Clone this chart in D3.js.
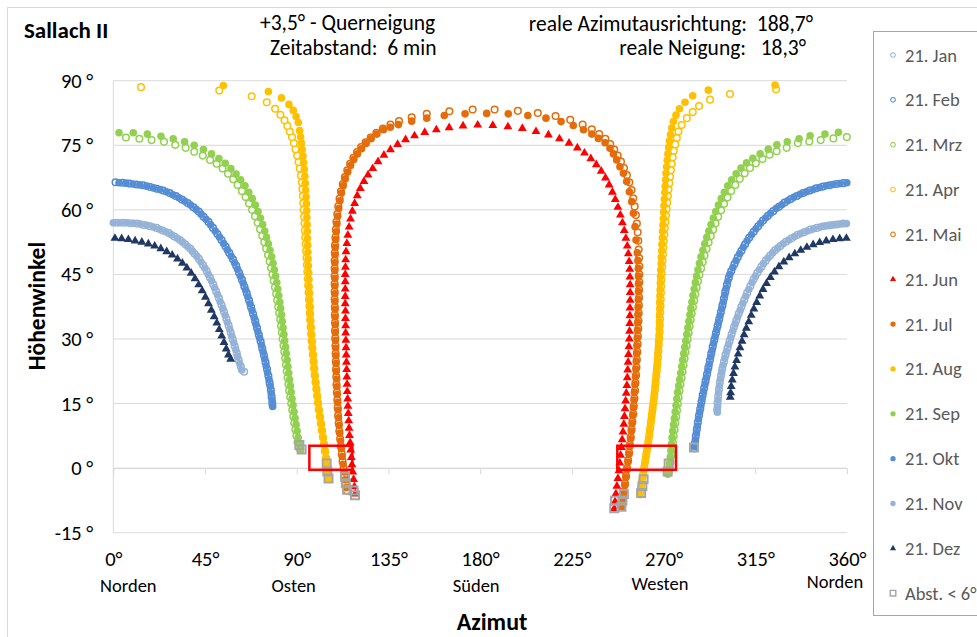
<!DOCTYPE html>
<html>
<head>
<meta charset="utf-8">
<script src="https://cdn.jsdelivr.net/npm/d3@7"></script>
<style>
body { margin: 0; background: #fff; }
svg text { font-family: Calibri, Carlito, Lato, "Liberation Sans", sans-serif; }
</style>
</head>
<body>
<svg id="chart" width="977" height="637"></svg>
<script>
// axis ticks
var altTicks = [-15, 0, 15, 30, 45, 60, 75, 90];
var azTicks = [0, 45, 90, 135, 180, 225, 270, 315, 360];
var compass = [[0, "Norden"], [90, "Osten"], [180, "Süden"], [270, "Westen"], [360, "Norden"]];

// [azimut, hoehenwinkel], 6 min steps
var jan = [[1.7,57],[5,57],[8.3,56.9],[11.6,56.8],[14.8,56.5],[18,56.2],[21.2,55.8],[24.2,55.2],[27.2,54.6],[30,53.8],[32.7,53],[35.3,52],[37.7,51],[39.9,49.8],[42,48.6],[44,47.2],[45.8,45.8],[47.4,44.3],[49,42.7],[50.4,41.1],[51.8,39.5],[53.1,37.9],[54.3,36.3],[55.5,34.7],[56.6,33.1],[57.6,31.5],[58.6,29.9],[59.6,28.3],[60.6,26.7],[61.5,25.1],[62.6,23.6],[64.2,22.4],
  [358.1,56.8],[354.9,56.6],[351.6,56.4],[348.4,56.2],[345.2,55.8],[342,55.4],[338.9,54.8],[335.8,54.2],[332.8,53.4],[330,52.6],[327.3,51.6],[324.7,50.6],[322.3,49.4],[320.1,48.2],[318,46.8],[316,45.4],[314.2,43.9],[312.6,42.3],[311,40.7],[309.6,39.1],[308.2,37.5],[306.9,35.9],[305.7,34.3],[304.5,32.7],[303.4,31.1],[302.4,29.5],[301.4,27.9],[300.4,26.3],[299.6,24.7],[298.8,23.1],[298.2,21.5],[297.6,19.9],[297.2,18.3],[296.8,16.7],[296.5,15.1],[296.3,13.6]];
var feb = [[1.1,66.4],[4.5,66.3],[7.9,66.1],[11.3,65.9],[14.7,65.7],[18.1,65.3],[21.3,64.9],[24.5,64.5],[27.7,63.9],[30.7,63.2],[33.7,62.4],[36.5,61.6],[39.3,60.6],[41.9,59.6],[44.3,58.4],[46.7,57.2],[48.9,55.8],[51.1,54.4],[53.1,53],[55.1,51.5],[56.9,50],[58.7,48.5],[60.3,47],[61.7,45.4],[63.1,43.8],[64.3,42.2],[65.5,40.6],[66.6,39],[67.6,37.4],[68.6,35.8],[69.6,34.2],[70.5,32.6],[71.4,31],[72.3,29.4],[73.1,27.8],[73.9,26.2],[74.7,24.6],[75.4,23],[76.1,21.4],[76.7,19.8],[77.3,18.2],[77.7,16.6],[78,15],
  [358.2,66.2],[354.8,66],[351.5,65.7],[348.2,65.4],[344.9,65],[341.7,64.5],[338.5,63.9],[335.4,63.2],[332.4,62.5],[329.4,61.7],[326.6,60.7],[323.8,59.7],[321.2,58.6],[318.8,57.5],[316.4,56.2],[314.2,54.9],[312,53.5],[310,52],[308.2,50.5],[306.4,49],[304.8,47.4],[303.2,45.8],[302,44.2],[301.1,42.6],[300.3,41],[299.6,39.4],[298.9,37.8],[298.1,36.2],[297.3,34.6],[296.5,33],[295.7,31.4],[294.9,29.8],[294.1,28.2],[293.4,26.6],[292.7,25],[292,23.4],[291.3,21.8],[290.6,20.2],[289.9,18.6],[289.2,17],[288.6,15.4],[288,13.8],[287.4,12.2],[286.8,10.6],[286.3,9],[285.8,7.4],[285.4,5.8],[285,4.6]];
var mrz = [[6.2,76.8],[12.8,76.5],[18.8,76.2],[24.9,75.8],[30.4,75.1],[35.5,74.4],[39.7,73.5],[43.9,72.6],[47.5,71.6],[50.7,70.7],[53.6,69.6],[56.3,68.4],[58.8,67.1],[61,65.8],[63.1,64.4],[64.9,63],[66.6,61.5],[68.1,60],[69.5,58.5],[70.8,57],[72,55.5],[73.1,54],[74.1,52.5],[75,51],[75.9,49.5],[76.7,48],[77.4,46.5],[78.1,45],[78.7,43.5],[79.3,42],[79.9,40.5],[80.4,39],[80.9,37.5],[81.4,36],[81.9,34.5],[82.3,33],[82.7,31.5],[83.1,30],[83.5,28.5],[83.9,27],[84.3,25.5],[84.7,24],[85.1,22.5],[85.5,21],[85.9,19.5],[86.3,18],[86.8,16.5],[87.3,15],[87.8,13.5],[88.3,12],[88.8,10.5],[89.3,9],[89.8,7.5],[90.4,6],[91,4.8],
  [359.9,76.9],[353.3,76.6],[347.1,76.2],[341.5,75.9],[335.9,75.5],[330.4,74.4],[325.5,73.6],[322,72.8],[318.5,71.8],[315.3,70.8],[312.4,69.7],[309.8,68.5],[307.4,67.2],[305.2,65.8],[303.2,64.4],[301.4,62.9],[299.7,61.4],[298.2,59.9],[296.8,58.4],[295.5,56.9],[294.3,55.4],[293.2,53.9],[292.1,52.4],[291.1,50.9],[290.1,49.4],[289.2,47.9],[288.4,46.4],[287.6,44.9],[286.9,43.4],[286.2,41.9],[285.6,40.4],[285,38.9],[284.4,37.4],[283.8,35.9],[283.3,34.4],[282.8,32.9],[282.3,31.4],[281.8,29.9],[281.3,28.4],[280.8,26.9],[280.3,25.4],[279.8,23.9],[279.3,22.4],[278.8,20.9],[278.3,19.4],[277.8,17.9],[277.4,16.4],[277,14.9],[276.6,13.4],[276.2,11.9],[275.8,10.4],[275.4,8.9],[275,7.4],[274.6,5.9],[274.2,4.4],[273.8,2.9],[273.4,1.4],[273,0],[272.5,-1]];
var apr = [[105.5,-2.3],[105.1,-0.8],[104.7,0.8],[104.3,2.4],[103.8,4],[103.3,5.6],[102.8,7.2],[102.3,8.8],[101.8,10.4],[101.3,12],[100.8,13.6],[100.4,15.2],[100,16.8],[99.6,18.4],[99.2,20],[98.8,21.6],[98.5,23.2],[98.2,24.8],[97.9,26.4],[97.6,28],[97.3,29.6],[97.1,31.2],[96.8,32.8],[96.6,34.4],[96.4,36],[96.2,37.6],[96,39.2],[95.8,40.8],[95.6,42.4],[95.4,44],[95.2,45.6],[95,47.2],[94.8,48.8],[94.6,50.4],[94.4,52],[94.2,53.6],[94,55.2],[93.8,56.8],[93.6,58.4],[93.4,60],[93.2,61.6],[93,63.2],[92.8,64.8],[92.5,66.4],[92.1,68],[91.5,69.6],[90.9,71.1],[90.2,72.6],[89.4,74.1],[88.6,75.5],[87.7,76.9],[86.6,78.2],[85.4,79.5],[84,80.8],[82,82.1],[79.4,83.5],[75.3,85],[67.9,86.4],[52,87.7],[13.6,88.5],
  [325.2,88],[302.6,86.9],[292.8,85.6],[287.4,84.1],[284.3,82.7],[281.4,81.3],[278.9,79.7],[277.3,78.2],[276.5,76.7],[275.7,75.2],[275,73.7],[274.5,72.2],[274,70.7],[273.6,69.2],[273.2,67.7],[272.8,66.2],[272.4,64.7],[272.1,63.2],[271.8,61.7],[271.5,60.2],[271.2,58.7],[270.9,57.2],[270.6,55.7],[270.4,54.2],[270.1,52.7],[269.9,51.2],[269.7,49.7],[269.5,48.2],[269.3,46.7],[269.1,45.2],[268.9,43.7],[268.8,42.2],[268.7,40.7],[268.6,39.2],[268.5,37.7],[268.4,36.2],[268.3,34.7],[268.2,33.2],[268.1,31.7],[267.9,30.2],[267.7,28.7],[267.5,27.2],[267.3,25.7],[267,24.2],[266.7,22.7],[266.4,21.2],[266.1,19.7],[265.8,18.2],[265.4,16.7],[265,15.2],[264.6,13.7],[264.2,12.2],[263.8,10.7],[263.4,9.2],[263,7.7],[262.5,6.2],[262,4.7],[261.5,3.2],[261,1.7],[260.5,0.2],[260,-1.3],[259.5,-2.8],[259,-4.3],[258.6,-5.6]];
var mai = [[114.6,-5.2],[114,-3.5],[113.5,-1.8],[113,-0.1],[112.5,1.6],[112.1,3.3],[111.7,5],[111.3,6.8],[110.9,8.6],[110.6,10.4],[110.3,12.2],[110.1,14],[109.9,15.8],[109.7,17.6],[109.5,19.4],[109.4,21.2],[109.3,23],[109.2,24.8],[109.1,26.6],[109,28.4],[108.9,30.2],[108.8,32],[108.8,33.8],[108.7,35.6],[108.7,37.4],[108.6,39.2],[108.6,41],[108.6,42.8],[108.6,44.6],[108.6,46.4],[108.6,48.2],[108.7,50],[108.8,51.8],[109,53.6],[109.2,55.4],[109.5,57.2],[109.9,59],[110.4,60.8],[111,62.6],[111.7,64.3],[112.6,66],[113.6,67.6],[114.8,69.2],[116.2,70.7],[117.8,72.1],[119.6,73.4],[121.6,74.6],[123.8,75.7],[126.3,76.8],[129.1,77.9],[132.3,78.9],[136,79.8],[140.2,80.6],[146.4,81.5],[153.8,82.3],[164.9,82.9],[176.3,83.3],[187.1,83.3],[198.5,83],[208.3,82.5],[217,81.8],[224.2,80.9],[230.3,79.8],[234.8,78.7],[238.4,77.6],[241.4,76.5],[243.8,75.3],[245.8,74],[247.5,72.6],[249.1,71.2],[250.6,69.7],[252,68.1],[253.2,66.4],[254.3,64.6],[255.1,62.7],[255.8,60.8],[256.4,58.8],[256.9,56.8],[257.3,54.8],[257.6,52.8],[257.8,50.8],[258,48.8],[258.1,46.9],[258.1,45],[258.1,43.2],[258,41.4],[258,39.6],[257.9,37.8],[257.8,36],[257.7,34.2],[257.6,32.4],[257.4,30.6],[257.3,28.8],[257.1,27],[256.9,25.2],[256.7,23.4],[256.5,21.6],[256.2,19.8],[256,18],[255.7,16.2],[255.4,14.4],[255.1,12.6],[254.7,10.8],[254.3,9],[253.9,7.2],[253.5,5.4],[253.1,3.6],[252.6,1.8],[252.1,0],[251.6,-1.8],[251.1,-3.6],[250.6,-5.4],[250.2,-7],[249.8,-8.5]];
var jun = [[118.7,-6],[118.3,-4.3],[117.9,-2.6],[117.5,-0.9],[117.1,0.8],[116.8,2.5],[116.5,4.2],[116.2,5.9],[115.9,7.6],[115.7,9.3],[115.5,11],[115.3,12.7],[115.1,14.4],[115,16.1],[114.8,17.8],[114.7,19.5],[114.6,21.2],[114.5,22.9],[114.4,24.6],[114.3,26.3],[114.2,28],[114.1,29.7],[114,31.4],[114,33.1],[113.9,34.8],[113.9,36.5],[113.8,38.2],[113.8,39.9],[113.8,41.6],[113.8,43.3],[113.8,45],[113.9,46.7],[114,48.4],[114.2,50.3],[114.6,52.2],[115.1,54.1],[115.7,56],[116.4,57.9],[117.3,59.7],[118.4,61.5],[119.7,63.3],[121.2,65],[123,66.6],[125,68.1],[127.3,69.6],[129.9,71.2],[132.8,72.7],[136,74],[139.5,75.2],[143.4,76.3],[147.8,77.2],[152.8,78],[158.5,78.6],[164.8,79.1],[171.6,79.5],[178.8,79.7],[186.2,79.6],[193.6,79.3],[200.7,78.9],[207.4,78.2],[213.5,77.4],[218.9,76.5],[223.6,75.5],[227.7,74.4],[231.2,73.2],[234.3,71.9],[237,70.5],[239.4,69],[241.5,67.4],[243.3,65.8],[244.9,64.1],[246.3,62.4],[247.6,60.6],[248.8,58.8],[249.8,57],[250.7,55.2],[251.5,53.4],[252.2,51.6],[252.7,49.8],[253.1,48],[253.4,46.2],[253.5,44.4],[253.6,42.6],[253.6,40.8],[253.6,39],[253.5,37.2],[253.5,35.4],[253.4,33.6],[253.3,31.8],[253.2,30],[253,28.2],[252.8,26.4],[252.6,24.6],[252.4,22.8],[252.2,21],[252,19.2],[251.7,17.4],[251.4,15.6],[251.1,13.8],[250.8,12],[250.5,10.2],[250.1,8.4],[249.7,6.6],[249.3,4.8],[248.9,3],[248.5,1.2],[248.1,-0.6],[247.6,-2.4],[247.1,-4.2],[246.6,-6],[246.2,-7.8],[245.8,-9.4]];
var jul = [[114.3,-4.5],[113.8,-2.7],[113.3,-0.9],[112.8,0.9],[112.3,2.7],[111.9,4.5],[111.5,6.3],[111.1,8.1],[110.8,9.9],[110.5,11.7],[110.3,13.5],[110.1,15.3],[109.9,17.1],[109.7,18.9],[109.6,20.7],[109.4,22.5],[109.3,24.3],[109.2,26.1],[109.1,27.9],[109,29.7],[108.9,31.5],[108.9,33.3],[108.8,35.1],[108.8,36.9],[108.7,38.7],[108.7,40.5],[108.7,42.3],[108.7,44.1],[108.7,45.9],[108.7,47.7],[108.8,49.5],[108.9,51.3],[109.1,53.1],[109.4,54.9],[109.7,56.7],[110.1,58.5],[110.6,60.3],[111.2,62.1],[111.9,63.9],[112.8,65.6],[113.8,67.2],[115,68.8],[116.4,70.3],[118,71.7],[119.8,73],[121.8,74.2],[124,75.4],[126.5,76.5],[129.3,77.6],[132.5,78.6],[135.9,79.2],[139.9,79.8],[146.4,80.6],[153.8,81.3],[162.4,81.9],[172.6,82.3],[183.2,82.4],[193.8,82.3],[203.4,81.9],[212.3,81.3],[219.7,80.5],[225.7,79.6],[230.7,78.6],[234.8,77.6],[238,76.6],[241.3,75.6],[243.7,74.3],[245.4,73],[247,71.6],[248.6,70],[250.3,68.5],[251.9,66.6],[253.2,64.2],[254.4,61.9],[255.2,59.2],[256,56.1],[256.5,53],[257.1,50],[257.4,48.2],[257.6,46.4],[257.7,44.6],[257.7,42.8],[257.7,41],[257.6,39.2],[257.5,37.4],[257.4,35.6],[257.3,33.8],[257.2,32],[257.1,30.2],[256.9,28.4],[256.8,26.6],[256.6,24.8],[256.4,23],[256.2,21.2],[256,19.4],[255.7,17.6],[255.5,15.8],[255.2,14],[254.9,12.2],[254.6,10.4],[254.2,8.6],[253.8,6.8],[253.4,5],[253,3.2],[252.5,1.4],[252,-0.4],[251.5,-2.2],[251,-4],[250.5,-5.8],[250,-7.6],[249.6,-9]];
var aug = [[105.8,-2.6],[105.4,-1],[105,0.6],[104.6,2.2],[104.1,3.8],[103.6,5.4],[103.1,7],[102.6,8.6],[102.1,10.2],[101.6,11.8],[101.1,13.4],[100.6,15],[100.2,16.6],[99.8,18.2],[99.4,19.8],[99,21.4],[98.7,23],[98.4,24.6],[98.1,26.2],[97.8,27.8],[97.6,29.4],[97.3,31],[97.1,32.6],[96.9,34.2],[96.7,35.8],[96.6,37.4],[96.4,39],[96.3,40.6],[96.1,42.2],[96,43.8],[95.9,45.4],[95.7,47],[95.6,48.6],[95.5,50.2],[95.4,51.8],[95.3,53.4],[95.2,55],[95.1,56.6],[95,58.2],[94.9,59.8],[94.8,61.4],[94.6,63],[94.4,64.6],[94.2,66.2],[94,67.8],[93.7,69.4],[93.4,71],[93.1,72.5],[92.7,74],[92.3,75.5],[91.9,76.9],[91.4,78.4],[90.8,80.3],[89.7,81.7],[88.3,83.1],[86.2,84.5],[82.5,86],[76.1,87.5],[54,88.9],
  [324.7,89],[292,87.8],[284.3,86.5],[280.5,85],[277.8,83.5],[276.1,82],[274.8,80.5],[274,79],[273.4,77.5],[272.9,76],[272.5,74.5],[272.1,73],[271.8,71.5],[271.5,70],[271.2,68.5],[271,67],[270.8,65.5],[270.6,64],[270.4,62.5],[270.2,61],[270,59.5],[269.9,58],[269.7,56.5],[269.5,55],[269.4,53.5],[269.2,52],[269.1,50.5],[268.9,49],[268.8,47.5],[268.6,46],[268.5,44.5],[268.4,43],[268.3,41.5],[268.2,40],[268.1,38.5],[268.1,37],[268,35.5],[268,34],[267.9,32.5],[267.8,31],[267.6,29.5],[267.4,28],[267.2,26.5],[267,25],[266.7,23.5],[266.4,22],[266.1,20.5],[265.8,19],[265.5,17.5],[265.2,16],[264.8,14.5],[264.4,13],[264,11.5],[263.6,10],[263.2,8.5],[262.8,7],[262.3,5.5],[261.8,4],[261.3,2.5],[260.8,1],[260.3,-0.5],[259.8,-2],[259.3,-3.5],[258.8,-5],[258.4,-6.2]];
var sep = [[2.8,77.9],[9.8,77.9],[16.7,77.6],[23.4,77.1],[29.4,76.5],[35,75.8],[39.7,75],[44.2,74],[48.2,73],[51.8,71.9],[54.9,70.8],[57.7,69.6],[60.2,68.3],[62.5,67],[64.6,65.6],[66.5,64.1],[68.2,62.6],[69.7,61.1],[71,59.6],[72.2,58.1],[73.3,56.6],[74.3,55.1],[75.2,53.6],[76.1,52.1],[76.9,50.6],[77.7,49.1],[78.4,47.6],[79,46.1],[79.6,44.6],[80.2,43.1],[80.7,41.6],[81.2,40.1],[81.7,38.6],[82.1,37.1],[82.5,35.6],[82.9,34.1],[83.3,32.6],[83.7,31.1],[84.1,29.6],[84.5,28.1],[84.9,26.6],[85.3,25.1],[85.7,23.6],[86.1,22.1],[86.5,20.6],[86.9,19.1],[87.3,17.6],[87.7,16.1],[88.2,14.6],[88.7,13.1],[89.2,11.6],[89.7,10.1],[90.2,8.6],[90.7,7.1],[91.3,5.6],[91.9,4.1],
  [355.8,78],[349.2,77.6],[341.9,77.2],[336.5,76.5],[330.7,75.8],[325.6,75.1],[321.4,74.1],[317.4,73],[313.8,72],[310.7,70.9],[308,69.7],[305.6,68.4],[303.4,67],[301.5,65.6],[299.8,64.1],[298.3,62.6],[296.9,61.1],[295.6,59.6],[294.4,58.1],[293.3,56.6],[292.2,55.1],[291.2,53.6],[290.2,52.1],[289.3,50.6],[288.4,49.1],[287.6,47.6],[286.9,46.1],[286.2,44.6],[285.6,43.1],[285,41.6],[284.4,40.1],[283.9,38.6],[283.4,37.1],[282.9,35.6],[282.4,34.1],[281.9,32.6],[281.4,31.1],[280.9,29.6],[280.4,28.1],[279.9,26.6],[279.4,25.1],[278.9,23.6],[278.4,22.1],[277.9,20.6],[277.4,19.1],[276.9,17.6],[276.5,16.1],[276.1,14.6],[275.7,13.1],[275.3,11.6],[274.9,10.1],[274.5,8.6],[274.2,7.1],[273.9,5.6],[273.6,4.1],[273.3,2.6],[273,1.1],[272.6,-0.4],[272.1,-1.4]];
var okt = [[2.8,66.3],[6.2,66.2],[9.6,66],[13,65.8],[16.4,65.5],[19.7,65.1],[22.9,64.7],[26.1,64.2],[29.2,63.5],[32.2,62.8],[35.1,62],[37.9,61.1],[40.6,60.1],[43.1,59],[45.5,57.8],[47.8,56.5],[50,55.1],[52.1,53.7],[54.1,52.2],[56,50.7],[57.8,49.2],[59.5,47.7],[61,46.2],[62.4,44.6],[63.7,43],[64.9,41.4],[66,39.8],[67.1,38.2],[68.1,36.6],[69.1,35],[70,33.4],[70.9,31.8],[71.8,30.2],[72.7,28.6],[73.5,27],[74.3,25.4],[75,23.8],[75.7,22.2],[76.4,20.6],[77,19],[77.5,17.4],[77.9,15.8],[78.2,14.3],
  [359.9,66.3],[356.5,66.1],[353.1,65.9],[349.8,65.6],[346.5,65.2],[343.3,64.7],[340.1,64.2],[337,63.6],[333.9,62.9],[330.9,62.1],[328,61.2],[325.2,60.3],[322.5,59.2],[320,58.1],[317.6,56.9],[315.3,55.6],[313.1,54.2],[311,52.8],[309.1,51.3],[307.3,49.8],[305.6,48.2],[304,46.6],[302.5,45],[301.5,43.4],[300.7,41.8],[300,40.2],[299.3,38.6],[298.5,37],[297.7,35.4],[296.9,33.8],[296.1,32.2],[295.3,30.6],[294.5,29],[293.8,27.4],[293.1,25.8],[292.4,24.2],[291.7,22.6],[291,21],[290.3,19.4],[289.6,17.8],[288.9,16.2],[288.3,14.6],[287.7,13],[287.1,11.4],[286.6,9.8],[286.1,8.2],[285.6,6.6],[285.2,5]];
var nov = [[0,57],[3.3,57],[6.6,57],[9.9,56.9],[13.2,56.7],[16.4,56.4],[19.6,56],[22.7,55.5],[25.7,54.9],[28.6,54.2],[31.4,53.4],[34,52.5],[36.5,51.5],[38.8,50.4],[41,49.2],[43,47.9],[44.9,46.5],[46.6,45],[48.2,43.5],[49.7,41.9],[51.1,40.3],[52.4,38.7],[53.7,37.1],[54.9,35.5],[56,33.9],[57.1,32.3],[58.1,30.7],[59.1,29.1],[60.1,27.5],[61,25.9],[62,24.3],[63,22.8],
  [359.7,56.8],[356.5,56.7],[353.2,56.5],[350,56.3],[346.8,56],[343.6,55.6],[340.4,55.1],[337.3,54.5],[334.3,53.8],[331.4,53],[328.6,52.1],[326,51.1],[323.5,50],[321.2,48.8],[319,47.5],[317,46.1],[315.1,44.6],[313.4,43.1],[311.8,41.5],[310.3,39.9],[308.9,38.3],[307.6,36.7],[306.3,35.1],[305.1,33.5],[304,31.9],[302.9,30.3],[301.9,28.7],[300.9,27.1],[300,25.5],[299.2,23.9],[298.5,22.3],[297.9,20.7],[297.4,19.1],[297,17.5],[296.7,15.9],[296.5,14.3],[296.4,13]];
var dez = [[0.8,53.4],[4.1,53.3],[7.4,53.1],[10.7,52.8],[14,52.5],[17.2,52.1],[20.3,51.6],[23.3,51],[26.2,50.3],[28.9,49.5],[31.5,48.6],[33.9,47.6],[36.1,46.5],[38.2,45.3],[40.1,44],[41.9,42.6],[43.6,41.2],[45.2,39.7],[46.7,38.2],[48.1,36.7],[49.5,35.2],[50.8,33.7],[52,32.2],[53.2,30.7],[54.3,29.2],[55.4,27.7],[56.5,26.3],[57.6,25.3],
  [359.7,53.4],[356.4,53.3],[353.1,53.1],[349.8,52.8],[346.6,52.4],[343.4,51.9],[340.3,51.3],[337.3,50.6],[334.4,49.8],[331.6,48.9],[329,47.9],[326.6,46.8],[324.4,45.6],[322.4,44.3],[320.5,42.9],[318.8,41.5],[317.2,40],[315.7,38.5],[314.3,37],[313,35.5],[311.8,34],[310.6,32.5],[309.5,31],[308.5,29.5],[307.5,28],[306.6,26.5],[305.8,25],[305,23.5],[304.3,22],[303.7,20.5],[303.2,19],[302.9,17.5],[302.7,16.5]];
var abst = [[91.3,5.4],[92.4,4.3],[104.7,1.1],[105,-0.8],[105.6,-2.4],[113.7,-2],[114.1,-3.5],[114.7,-5],[117.8,-5.2],[118.6,-6.3],
  [284.9,4.8],[272.5,1.1],[272,-0.8],[260.2,-2.6],[259.6,-4.2],[259,-5.8],[250.5,-6],[249.8,-7.5],[249.3,-9],[246.2,-7.6],[245.8,-9.3]];

// rote Rahmen: azimut von-bis, hoehe von-bis
var boxAz = [[96.2, 117.3], [247.3, 276.1]];
var boxAlt = [-0.4, 5.2];

var series = [
  { name: "21. Jan", data: jan, color: "#95B3D7", type: "open" },
  { name: "21. Feb", data: feb, color: "#4F86D2", type: "open" },
  { name: "21. Mrz", data: mrz, color: "#92D050", type: "open" },
  { name: "21. Apr", data: apr, color: "#FFC000", type: "open" },
  { name: "21. Mai", data: mai, color: "#E46C0A", type: "open" },
  { name: "21. Jun", data: jun, color: "#FF0000", type: "tri" },
  { name: "21. Jul", data: jul, color: "#E46C0A", type: "dot" },
  { name: "21. Aug", data: aug, color: "#FFC000", type: "dot" },
  { name: "21. Sep", data: sep, color: "#92D050", type: "dot" },
  { name: "21. Okt", data: okt, color: "#558ED5", type: "dot" },
  { name: "21. Nov", data: nov, color: "#95B3D7", type: "dot" },
  { name: "21. Dez", data: dez, color: "#1F3864", type: "tri" },
  { name: "Abst. < 6°", data: abst, color: "#A6A6A6", type: "sq" }
];

var svg = d3.select("#chart");

svg.append("rect")
    .attr("x", 7.5).attr("y", 7.5)
    .attr("width", 1000).attr("height", 660)
    .attr("fill", "#fff")
    .attr("stroke", "#D9D9D9");

var x = d3.scaleLinear().domain([0, 360]).range([113.3, 847]);
var y = d3.scaleLinear().domain([-15, 90]).range([532.7, 80.7]);

// gridlines
svg.append("g").selectAll("line")
    .data(altTicks)
    .enter().append("line")
        .attr("x1", x(0)).attr("x2", x(360))
        .attr("y1", function(d) { return y(d); })
        .attr("y2", function(d) { return y(d); })
        .attr("stroke", "#D9D9D9")
        .attr("stroke-width", 1);

svg.append("line")
    .attr("x1", x(0)).attr("x2", x(0))
    .attr("y1", y(90)).attr("y2", y(-15))
    .attr("stroke", "#D9D9D9");

// Y labels
var yAxisCall = d3.axisLeft(y)
    .tickValues(altTicks)
    .tickSize(0)
    .tickPadding(20)
    .tickFormat(function(d) { return d + " °"; });
var yAxis = svg.append("g")
    .attr("transform", "translate(" + x(0) + ",0)")
    .call(yAxisCall);
yAxis.select(".domain").remove();
yAxis.selectAll("text").attr("font-size", "20.5px").attr("fill", "#000");

// X ticks on the 0 line
var xTickCall = d3.axisBottom(x)
    .tickValues(azTicks)
    .tickSizeInner(6).tickSizeOuter(0)
    .tickFormat("");
var xTicks = svg.append("g")
    .attr("transform", "translate(0," + y(0) + ")")
    .call(xTickCall);
xTicks.selectAll("line, path").attr("stroke", "#D9D9D9");

// X labels below the plot
var xAxisCall = d3.axisBottom(x)
    .tickValues(azTicks)
    .tickSize(0)
    .tickPadding(19)
    .tickFormat(function(d) { return d + "°"; });
var xAxis = svg.append("g")
    .attr("transform", "translate(0," + y(-15) + ")")
    .call(xAxisCall);
xAxis.select(".domain").remove();
xAxis.selectAll("text").attr("font-size", "20.5px").attr("fill", "#000");

// compass names
var compassDx = [15, -3, -4, -3.5, -12];
var compassY = [592, 592, 592, 590, 588];
svg.append("g").selectAll("text")
    .data(compass)
    .enter().append("text")
        .attr("x", function(d, i) { return x(d[0]) + compassDx[i]; })
        .attr("y", function(d, i) { return compassY[i]; })
        .attr("text-anchor", "middle")
        .attr("font-size", "18.5px")
        .text(function(d) { return d[1]; });

// axis titles
svg.append("text")
    .attr("x", 492).attr("y", 630)
    .attr("text-anchor", "middle")
    .attr("font-size", "24px").attr("font-weight", "bold")
    .text("Azimut");
svg.append("text")
    .attr("transform", "translate(45,306) rotate(-90)")
    .attr("text-anchor", "middle")
    .attr("font-size", "23.5px").attr("font-weight", "bold")
    .text("Höhenwinkel");

// header texts
svg.append("text").attr("x", 24).attr("y", 38)
    .attr("font-size", "23px").attr("font-weight", "bold")
    .text("Sallach II");
svg.append("text").attr("x", 260).attr("y", 30)
    .attr("font-size", "21.5px").style("white-space", "pre")
    .text("+3,5° - Querneigung");
svg.append("text").attr("x", 270).attr("y", 55)
    .attr("font-size", "21.5px").style("white-space", "pre")
    .text("Zeitabstand:  6 min");
svg.append("text").attr("x", 813).attr("y", 31)
    .attr("text-anchor", "end")
    .attr("font-size", "21.5px").style("white-space", "pre")
    .text("reale Azimutausrichtung:  188,7°");
svg.append("text").attr("x", 806).attr("y", 55)
    .attr("text-anchor", "end")
    .attr("font-size", "21.5px").style("white-space", "pre")
    .text("reale Neigung:   18,3°");

// markers
function drawMarkers(sel, s, scale) {
    var k = scale || 1;
    if (s.type === "open") {
        sel.append("circle").attr("r", 3.3 * k)
            .attr("fill", "#fff").attr("stroke", s.color).attr("stroke-width", 1.5 * k);
    } else if (s.type === "dot") {
        sel.append("circle").attr("r", 3.8 * k).attr("fill", s.color);
    } else if (s.type === "tri") {
        sel.append("path").attr("d", d3.symbol().type(d3.symbolTriangle).size(34 * k * k))
            .attr("fill", s.color);
    } else {
        sel.append("path").attr("d", d3.symbol().type(d3.symbolSquare).size(64 * k * k))
            .attr("fill", "none").attr("stroke", s.color).attr("stroke-width", 2 * k);
    }
}

series.forEach(function(s) {
    var pts = svg.append("g").selectAll("g")
        .data(s.data)
        .enter().append("g")
            .attr("transform", function(d) {
                return "translate(" + x(d[0]) + "," + y(d[1]) + ")";
            });
    drawMarkers(pts, s);
});

// red boxes
svg.append("g").selectAll("rect")
    .data(boxAz)
    .enter().append("rect")
        .attr("x", function(d) { return x(d[0]); })
        .attr("width", function(d) { return x(d[1]) - x(d[0]); })
        .attr("y", y(boxAlt[1]))
        .attr("height", y(boxAlt[0]) - y(boxAlt[1]))
        .attr("fill", "none")
        .attr("stroke", "#FF0000")
        .attr("stroke-width", 2.5);

// legend
var legend = svg.append("g");
legend.append("rect")
    .attr("x", 873.5).attr("y", 31.5)
    .attr("width", 130).attr("height", 584)
    .attr("fill", "#fff")
    .attr("stroke", "#A6A6A6");
var items = legend.selectAll("g.item")
    .data(series)
    .enter().append("g")
        .attr("class", "item")
        .attr("transform", function(d, i) { return "translate(893," + (55 + i * 44.85) + ")"; });
items.each(function(s) { drawMarkers(d3.select(this), s, 0.7); });
items.append("text")
    .attr("x", 12).attr("y", 6.5)
    .attr("font-size", "18.5px")
    .attr("fill", "#595959")
    .text(function(d) { return d.name; });
</script>
</body>
</html>
